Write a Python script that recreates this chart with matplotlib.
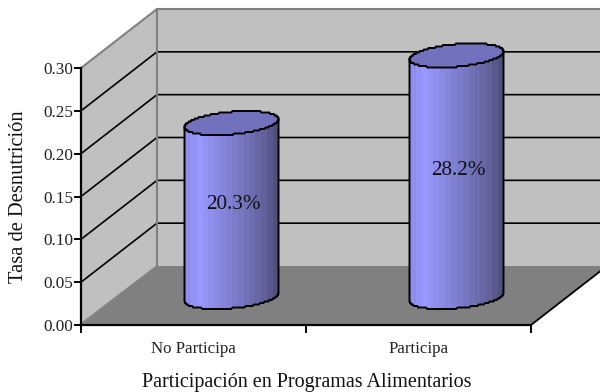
import numpy as np
import matplotlib
matplotlib.use('Agg')
import matplotlib.pyplot as plt
from matplotlib.colors import LinearSegmentedColormap
from matplotlib.patches import Polygon

categories = ['No Participa', 'Participa']
rates = [0.203, 0.282]
rate_labels = ['20.3%', '28.2%']
y_ticks = [0.00, 0.05, 0.10, 0.15, 0.20, 0.25, 0.30]
x_title = 'Participación en Programas Alimentarios'
y_title = 'Tasa de Desnutrición'

# oblique projection, in pixels
x0, y0 = 81, 325
plot_w = 450
unit = 257 / 0.30
dx, dy = 76, -59
wall = '#c0c0c0'
floor = '#808080'
edge = '#808080'
top_col = '#7171bd'

plt.rcParams['font.family'] = ['Liberation Serif', 'DejaVu Serif']

fig = plt.figure(figsize=(6, 3.92), dpi=100)
ax = fig.add_axes([0, 0, 1, 1])


def front(v):
    return y0 - v * unit


def ell(cx, cy, t):
    # tilted ellipse, y snapped a little so the outline is slightly stepped
    x = cx + 47 * np.cos(t)
    y = cy + 11.3 * np.sin(t) - 0.085 * (x - cx)
    y = np.round(y / 1.5) * 1.5
    return x, y


# walls and floor
ax.add_patch(Polygon([(x0 + dx, y0 + dy), (610, y0 + dy), (610, front(0.30) + dy), (x0 + dx, front(0.30) + dy)],
                     fc=wall, ec='none', zorder=1))
ax.add_patch(Polygon([(x0, y0), (x0 + dx, y0 + dy), (x0 + dx, front(0.30) + dy), (x0, front(0.30))],
                     fc=wall, ec='none', zorder=1))
ax.add_patch(Polygon([(x0, y0), (x0 + plot_w, y0), (x0 + plot_w + dx, y0 + dy), (x0 + dx, y0 + dy)],
                     fc=floor, ec='none', zorder=1))

# gridlines on both walls
for v in y_ticks[1:-1]:
    ax.plot([x0, x0 + dx, 610], [front(v), front(v) + dy, front(v) + dy], color='black', lw=1.2, zorder=2)
ax.plot([x0, x0 + dx, 610], [front(0.30), front(0.30) + dy, front(0.30) + dy], color=edge, lw=1.5, zorder=2)
ax.plot([x0 + dx, x0 + dx], [front(0.30) + dy, y0 + dy], color=edge, lw=1.5, zorder=2)
ax.plot([x0, x0 + dx], [y0 - 1, y0 + dy], color=edge, lw=1.2, zorder=2)

# axes lines and ticks
ax.plot([x0, x0], [front(0.30), y0], color='black', lw=1.6, zorder=3)
ax.plot([x0, x0 + plot_w], [y0, y0], color='black', lw=1.6, zorder=3)
ax.plot([x0 + plot_w, x0 + plot_w + dx], [y0, y0 + dy], color='black', lw=1.3, zorder=3)
for v in y_ticks:
    ax.plot([x0 - 6, x0], [front(v), front(v)], color='black', lw=1.4, zorder=3)
    ax.text(x0 - 8, front(v) + 2, '%.2f' % v, ha='right', va='center', fontsize=12.4, color='#222222')
for i in range(len(categories) + 1):
    tx = x0 + i * plot_w / len(categories)
    ax.plot([tx, tx], [y0, y0 + 7], color='black', lw=1.4, zorder=3)

# cylinders
cmap = LinearSegmentedColormap.from_list('cyl', [(0, '#8e8eee'), (0.14, '#9999ff'), (0.55, '#7a7ac8'),
                                                  (0.85, '#64649f'), (1, '#50507f')])
t = np.linspace(0, 2 * np.pi, 200)
grad = np.linspace(0, 1, 16).reshape(1, -1)
for i, (name, v, lab) in enumerate(zip(categories, rates, rate_labels)):
    cx = x0 + (i + 0.5) * plot_w / len(categories) + 38
    base = y0 - 28
    top = base - v * unit
    bx, by = ell(cx, base, t[:100])
    tx, ty = ell(cx, top, t)
    body_x = np.r_[bx, cx - 47, cx + 47]
    body_y = np.r_[by, top + 4, top - 4]
    body = Polygon(np.c_[body_x, body_y], closed=True, fc='none', ec='none', zorder=4)
    ax.add_patch(body)
    im = ax.imshow(grad, cmap=cmap, extent=[cx - 47, cx + 47, base + 14, top - 14], aspect='auto', zorder=4,
                   interpolation='nearest')
    im.set_clip_path(body)
    ax.plot(np.r_[cx + 47, bx, cx - 47], np.r_[top - 4, by, top + 4], color='black', lw=1.4, zorder=5)
    ax.fill(tx, ty, fc=top_col, ec='black', lw=1.4, zorder=6)
    ax.text(cx + 2, (top + base) / 2 - 5.5, lab, ha='center', va='center', fontsize=15.3, color='#111111', zorder=7)
    ax.text(x0 + (i + 0.5) * plot_w / len(categories), 349, name, ha='center', va='center',
            fontsize=12.2, color='#222222')

ax.text(307, 383, x_title, ha='center', va='center', fontsize=14.5, color='#111111')
ax.text(19, 197, y_title, ha='center', va='center', rotation=90, fontsize=14.8, color='#111111')

ax.set_xlim(0, 600)
ax.set_ylim(392, 0)
ax.axis('off')
fig.savefig('out.png', dpi=100, facecolor='white')
